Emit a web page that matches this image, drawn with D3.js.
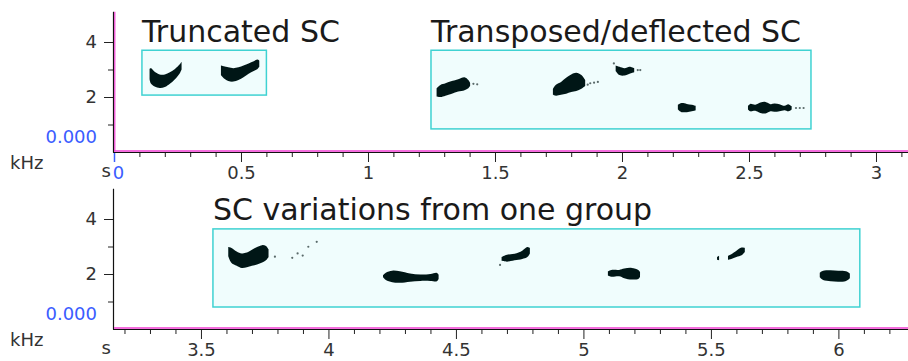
<!DOCTYPE html>
<html>
<head>
<meta charset="utf-8">
<script src="https://cdn.jsdelivr.net/npm/d3@7"></script>
<style>
  body { margin: 0; background: #fff; }
  text { font-family: "DejaVu Sans", sans-serif; }
</style>
</head>
<body>
<div id="chart-area"></div>
<script>
// syllables: [time s, low kHz, high kHz]
var truncA = [[0.140, 2.65, 3.02], [0.146, 2.48, 3.05], [0.160, 2.38, 2.92], [0.180, 2.33, 2.82],
  [0.200, 2.36, 2.82], [0.220, 2.48, 2.90], [0.240, 2.65, 3.02], [0.258, 2.85, 3.18], [0.266, 3.00, 3.28]];
var truncB = [[0.421, 2.80, 3.15], [0.432, 2.68, 3.12], [0.450, 2.58, 3.08], [0.470, 2.56, 3.05],
  [0.490, 2.62, 3.08], [0.510, 2.72, 3.15], [0.530, 2.85, 3.22], [0.550, 2.95, 3.30], [0.565, 3.02, 3.36], [0.572, 3.10, 3.32]];
var transA = [[1.270, 2.02, 2.32], [1.285, 2.00, 2.44], [1.305, 2.05, 2.50], [1.330, 2.12, 2.58],
  [1.355, 2.20, 2.65], [1.380, 2.25, 2.72], [1.395, 2.32, 2.62], [1.402, 2.40, 2.52]];
var transB = [[1.728, 2.08, 2.30], [1.740, 2.05, 2.45], [1.760, 2.08, 2.55], [1.780, 2.12, 2.70],
  [1.800, 2.18, 2.82], [1.820, 2.22, 2.88], [1.840, 2.30, 2.80], [1.855, 2.40, 2.62]];
var transC = [[1.975, 2.95, 3.15], [1.990, 2.80, 3.10], [2.010, 2.78, 3.05], [2.030, 2.85, 3.10], [2.048, 2.90, 3.05]];
var transD = [[2.220, 1.55, 1.72], [2.235, 1.45, 1.78], [2.255, 1.45, 1.75], [2.275, 1.48, 1.72], [2.290, 1.52, 1.68]];
var transE = [[2.496, 1.55, 1.68], [2.505, 1.48, 1.75], [2.525, 1.50, 1.72], [2.545, 1.42, 1.80],
  [2.565, 1.40, 1.82], [2.585, 1.48, 1.74], [2.600, 1.46, 1.76], [2.620, 1.48, 1.74],
  [2.640, 1.52, 1.68], [2.655, 1.48, 1.74], [2.668, 1.55, 1.66]];

var varA = [[3.607, 2.65, 2.98], [3.620, 2.40, 2.95], [3.640, 2.30, 2.82], [3.660, 2.22, 2.75],
  [3.680, 2.25, 2.78], [3.700, 2.30, 2.88], [3.720, 2.35, 2.98], [3.740, 2.42, 3.05], [3.755, 2.50, 3.02], [3.765, 2.62, 2.90]];
var varB = [[4.214, 1.88, 1.96], [4.225, 1.78, 2.05], [4.250, 1.70, 2.12], [4.280, 1.68, 2.10],
  [4.320, 1.72, 2.02], [4.360, 1.75, 1.98], [4.400, 1.75, 2.00], [4.425, 1.74, 2.04], [4.432, 1.82, 1.98]];
var varC = [[4.679, 2.48, 2.62], [4.700, 2.45, 2.70], [4.730, 2.50, 2.74], [4.760, 2.55, 2.85], [4.780, 2.62, 2.98], [4.790, 2.75, 2.95]];
var varD = [[5.096, 1.95, 2.10], [5.110, 1.90, 2.15], [5.140, 1.92, 2.15], [5.160, 1.85, 2.20],
  [5.190, 1.80, 2.22], [5.215, 1.82, 2.15], [5.222, 1.90, 2.08]];
var varE0 = [[5.524, 2.52, 2.62], [5.532, 2.50, 2.66]];
var varE = [[5.567, 2.52, 2.66], [5.580, 2.55, 2.72], [5.600, 2.62, 2.85], [5.620, 2.68, 2.96], [5.633, 2.80, 2.95]];
var varF = [[5.927, 1.88, 2.05], [5.940, 1.78, 2.12], [5.970, 1.74, 2.14], [6.000, 1.72, 2.12], [6.030, 1.75, 2.10], [6.045, 1.85, 2.02]];

// faint specks: [time s, kHz]
var topSpecks = [[1.415, 2.48], [1.430, 2.46], [1.865, 2.45], [1.875, 2.50], [1.890, 2.52], [1.905, 2.55],
  [1.968, 3.22], [2.062, 2.98], [2.072, 2.98], [2.685, 1.60], [2.700, 1.60], [2.715, 1.60]];
var botSpecks = [[3.790, 2.63], [3.858, 2.59], [3.879, 2.75], [3.899, 2.67], [3.921, 2.99], [3.954, 3.17], [4.673, 2.33]];

// highlight boxes: [t0, t1, f0, f1]
var boxTrunc = [0.11, 0.60, 2.07, 3.70];
var boxTrans = [1.248, 2.744, 0.84, 3.70];
var boxVar = [3.547, 6.084, 0.80, 3.64];

var titles = ['Truncated SC', 'Transposed/deflected SC', 'SC variations from one group'];
var topMajor = [0, 0.5, 1, 1.5, 2, 2.5, 3];
var botMajor = [3.5, 4, 4.5, 5, 5.5, 6];
var yMajor = [2, 4];
var yMinor = [1, 3];

var width = 908, height = 361;
var svg = d3.select('#chart-area').append('svg')
    .attr('width', width)
    .attr('height', height);

var defs = svg.append('defs');
defs.append('filter').attr('id', 'soft')
  .append('feGaussianBlur').attr('stdDeviation', 0.6);

var panels = [
  {
    x: d3.scaleLinear().domain([0, 3.126]).range([114, 908]),
    y: d3.scaleLinear().domain([0, 5.1]).range([152, 11.75]),
    boxes: [[boxTrunc, titles[0]], [boxTrans, titles[1]]],
    syl: [truncA, truncB, transA, transB, transC, transD, transE],
    specks: topSpecks,
    major: topMajor,
    minorFrom: 0.1, minorTo: 3.1,
    pinkY: true
  },
  {
    x: d3.scaleLinear().domain([3.155, 6.273]).range([113, 908]),
    y: d3.scaleLinear().domain([0, 5.1]).range([329, 188.75]),
    boxes: [[boxVar, titles[2]]],
    syl: [varA, varB, varC, varD, varE0, varE, varF],
    specks: botSpecks,
    major: botMajor,
    minorFrom: 3.2, minorTo: 6.2,
    pinkY: false
  }
];

panels.forEach(function (p) {
  var x = p.x, y = p.y;
  var y0 = y(0);
  var g = svg.append('g');

  // boxes + titles
  p.boxes.forEach(function (b) {
    var bx = b[0];
    g.append('rect')
      .attr('x', x(bx[0]))
      .attr('y', y(bx[3]))
      .attr('width', x(bx[1]) - x(bx[0]))
      .attr('height', y(bx[2]) - y(bx[3]))
      .attr('fill', '#f0fdfd')
      .attr('stroke', '#3fd2d2')
      .attr('stroke-width', 1.5);
    g.append('text')
      .attr('x', x(bx[0]))
      .attr('y', y(bx[3]) - 8.5)
      .attr('font-size', 30)
      .attr('fill', '#1a1a1a')
      .text(b[1]);
  });

  // syllables
  var area = d3.area()
    .x(function (d) { return x(d[0]); })
    .y0(function (d) { return y(d[1]); })
    .y1(function (d) { return y(d[2]); })
    .curve(d3.curveCatmullRom);
  g.selectAll('path.syl').data(p.syl).enter().append('path')
    .attr('class', 'syl')
    .attr('d', area)
    .attr('fill', '#061919')
    .attr('filter', 'url(#soft)');
  g.selectAll('circle.speck').data(p.specks).enter().append('circle')
    .attr('class', 'speck')
    .attr('cx', function (d) { return x(d[0]); })
    .attr('cy', function (d) { return y(d[1]); })
    .attr('r', 1.1)
    .attr('fill', '#5a6a6a');

  // y axis
  var yAxisG = g.append('g').attr('transform', 'translate(113,0)');
  yAxisG.call(d3.axisLeft(y).tickValues(yMajor).tickSize(9).tickPadding(7).tickFormat(d3.format('d')));
  yAxisG.append('g').call(d3.axisLeft(y).tickValues(yMinor).tickSize(5).tickFormat(''));
  yAxisG.selectAll('.domain').remove();
  yAxisG.selectAll('line').attr('stroke', '#222');
  yAxisG.selectAll('text').attr('font-size', 18).attr('fill', '#333').attr('font-family', 'DejaVu Sans');

  // x axis
  var minor = d3.range(Math.round(p.minorFrom * 10), Math.round(p.minorTo * 10) + 1)
    .map(function (v) { return v / 10; })
    .filter(function (v) { return Math.abs(v * 2 - Math.round(v * 2)) > 1e-6; });
  var xAxisG = g.append('g').attr('transform', 'translate(0,' + y0 + ')');
  xAxisG.call(d3.axisBottom(x).tickValues(p.major).tickSize(10).tickPadding(4)
    .tickFormat(function (d) { return String(+d.toFixed(1)); }));
  xAxisG.append('g').call(d3.axisBottom(x).tickValues(minor).tickSize(5).tickFormat(''));
  xAxisG.selectAll('.domain').remove();
  xAxisG.selectAll('line').attr('stroke', '#222');
  xAxisG.selectAll('text').attr('font-size', 18).attr('fill', '#333').attr('font-family', 'DejaVu Sans');
  xAxisG.selectAll('.tick').filter(function (d) { return d === 0; })
    .each(function () {
      d3.select(this).select('line').attr('stroke', '#3a5cff').attr('stroke-width', 1.5);
      d3.select(this).select('text').attr('fill', '#3a5cff').attr('x', 4);
    });

  // axis lines
  g.append('line')
    .attr('x1', 113.5).attr('x2', 113.5)
    .attr('y1', y.range()[1]).attr('y2', y0 + 0.5)
    .attr('stroke', '#111').attr('stroke-width', 1.2);
  if (p.pinkY) {
    g.append('line')
      .attr('x1', 114.8).attr('x2', 114.8)
      .attr('y1', y.range()[1]).attr('y2', y0 - 1)
      .attr('stroke', '#f03cd2').attr('stroke-width', 1.2);
  }
  g.append('line')
    .attr('x1', 113).attr('x2', width)
    .attr('y1', y0 + 0.5).attr('y2', y0 + 0.5)
    .attr('stroke', '#111').attr('stroke-width', 1);
  g.append('line')
    .attr('x1', 114).attr('x2', width)
    .attr('y1', y0 - 1).attr('y2', y0 - 1)
    .attr('stroke', '#f03cd2').attr('stroke-width', 1.5);

  // unit labels
  g.append('text')
    .attr('x', 97).attr('y', y0 - 9.5)
    .attr('text-anchor', 'end')
    .attr('font-size', 18)
    .attr('fill', '#3a5cff')
    .text('0.000');
  g.append('text')
    .attr('x', 10).attr('y', y0 + 17)
    .attr('font-size', 18)
    .attr('fill', '#333')
    .text('kHz');
  g.append('text')
    .attr('x', 111).attr('y', y0 + 25)
    .attr('text-anchor', 'end')
    .attr('font-size', 18)
    .attr('fill', '#333')
    .text('s');
});
</script>
</body>
</html>
